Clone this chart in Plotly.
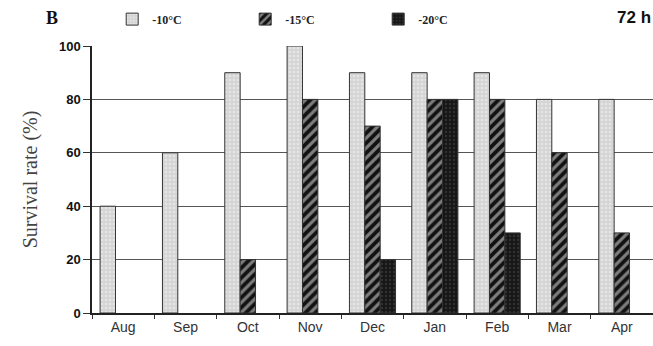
import plotly.graph_objects as go

months = ["Aug", "Sep", "Oct", "Nov", "Dec", "Jan", "Feb", "Mar", "Apr"]
series_names = ["-10°C", "-15°C", "-20°C"]
s10 = [40, 60, 90, 100, 90, 90, 90, 80, 80]
s15 = [None, None, 20, 80, 70, 80, 80, 60, 30]
s20 = [None, None, None, None, 20, 80, 30, None, None]
y_ticks = [0, 20, 40, 60, 80, 100]

patterns = [
    dict(shape=".", bgcolor="#d4d4d4", fgcolor="#f6f6f6", size=4, solidity=0.35),
    dict(shape="/", bgcolor="#111111", fgcolor="#eeeeee", size=7, solidity=0.45),
    dict(shape=".", bgcolor="#161616", fgcolor="#4a4a4a", size=4, solidity=0.3),
]
series = [s10, s15, s20]

fig = go.Figure()
for name, vals, pat in zip(series_names, series, patterns):
    fig.add_trace(go.Bar(
        x=months, y=vals, name=name,
        marker=dict(color=pat["bgcolor"], pattern=pat, line=dict(color="#333333", width=1)),
        cliponaxis=False,
    ))

fig.update_layout(
    width=653, height=346,
    margin=dict(l=92, r=0, t=46, b=33),
    paper_bgcolor="white", plot_bgcolor="white",
    barmode="group", bargap=0.26, bargroupgap=0,
    font=dict(family="Liberation Serif", color="#222222"),
    legend=dict(
        orientation="h", x=0.036, xanchor="left", y=1.155, yanchor="top",
        entrywidth=88, entrywidthmode="pixels",
        font=dict(family="Liberation Serif", size=12, color="#222222", weight="bold"),
        bgcolor="rgba(0,0,0,0)",
    ),
    xaxis=dict(
        showline=True, linecolor="#222222", linewidth=1.5,
        ticks="outside", tickson="boundaries", ticklen=4, tickcolor="#333333",
        tickfont=dict(family="Liberation Sans", size=14, color="#333333"),
        showgrid=False,
    ),
    yaxis=dict(
        range=[0, 100], tickvals=y_ticks,
        showline=True, linecolor="#222222", linewidth=1.5,
        ticks="outside", ticklen=7, tickcolor="#333333",
        showgrid=True, gridcolor="#555555", gridwidth=1.2,
        zeroline=False,
        tickfont=dict(family="Liberation Sans", size=13, color="#111111", weight="bold"),
        title=dict(text="Survival rate (%)", font=dict(family="Liberation Serif", size=20, color="#444444"), standoff=16),
    ),
    annotations=[
        dict(text="<b>B</b>", xref="paper", yref="paper", x=-0.085, y=1.105, xanchor="left", yanchor="middle",
             showarrow=False, font=dict(family="Liberation Serif", size=18, color="#111111")),
        dict(text="<b>72 h</b>", xref="paper", yref="paper", x=1.0, y=1.105, xanchor="right", yanchor="middle",
             showarrow=False, font=dict(family="Liberation Sans", size=17, color="#111111")),
    ],
)

fig.write_html("out.html")
